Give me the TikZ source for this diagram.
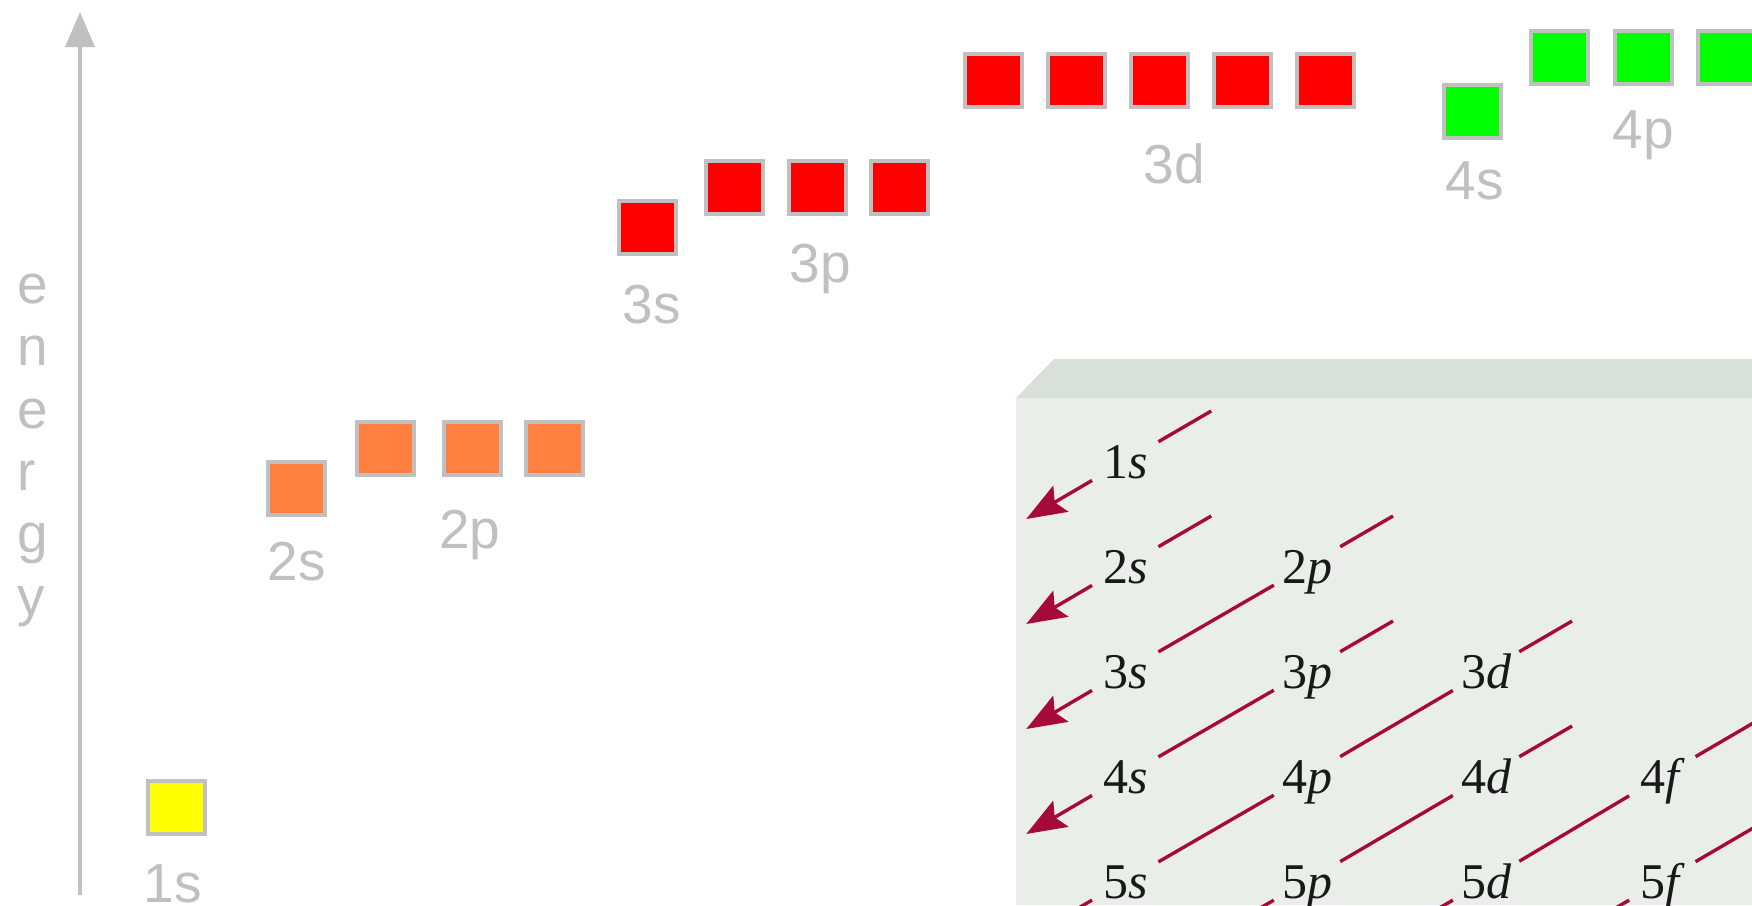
\documentclass[tikz,border=0pt]{standalone}
\usepackage{fontspec}
\setmainfont{Liberation Serif}
\newfontfamily\pixfont{Liberation Sans}
\usetikzlibrary{arrows.meta,calc}
\definecolor{lgray}{RGB}{192,192,192}
\definecolor{orbyel}{RGB}{255,255,0}
\definecolor{orborg}{RGB}{255,128,64}
\definecolor{orbred}{RGB}{255,0,0}
\definecolor{orbgrn}{RGB}{0,255,0}
\definecolor{panelbg}{RGB}{233,238,233}
\definecolor{panelband}{RGB}{216,224,217}
\definecolor{crim}{RGB}{165,10,58}
\definecolor{inkc}{RGB}{25,25,25}
\begin{document}
\begin{tikzpicture}[x=1pt,y=-1pt,
  orb/.style={draw=lgray, line width=4pt, minimum width=57pt, minimum height=53pt, inner sep=0pt, outer sep=0pt},
  glab/.style={text=lgray, font=\pixfont\fontsize{55}{60}\selectfont, anchor=base, inner sep=0pt},
  elet/.style={text=lgray, font=\pixfont\fontsize{55}{60}\selectfont, anchor=base west, inner sep=0pt},
  plab/.style={text=inkc, font=\fontsize{50}{55}\selectfont, anchor=text, text height=34pt, text depth=0pt, minimum width=66pt, minimum height=40pt, inner sep=0pt},
  diag/.style={draw=crim, line width=3.4pt},
  arr/.style={diag, -{Stealth[length=40pt,width=30pt,inset=7pt]}},
  axisline/.style={draw=lgray, line width=4pt, -{Triangle[length=35pt,width=29pt]}}
]
\useasboundingbox (0,0) rectangle (1752,905);
\clip (0,0) rectangle (1752,905);

% energy axis
\coordinate (axb) at (80,895);
\coordinate (axt) at (80,12);
\draw[axisline] (axb) -- (axt);
\node[elet] (e1) at (17,303) {e};
\node[elet] (e2) at (17,365) {n};
\node[elet] (e3) at (17,428) {e};
\node[elet] (e4) at (17,490) {r};
\node[elet] (e5) at (17,552) {g};
\node[elet] (e6) at (17,615) {y};

% orbital boxes
\node[orb, fill=orbyel] (b1s) at (176.5,807.5) {};
\node[orb, fill=orborg] (b2s) at (296.5,488) {};
\node[orb, fill=orborg] (b2pa) at (385,448) {};
\node[orb, fill=orborg] (b2pb) at (472,448) {};
\node[orb, fill=orborg] (b2pc) at (554.5,448) {};
\node[orb, fill=orbred] (b3s) at (647.5,227) {};
\node[orb, fill=orbred] (b3pa) at (734.5,187) {};
\node[orb, fill=orbred] (b3pb) at (817,187) {};
\node[orb, fill=orbred] (b3pc) at (899.5,187) {};
\node[orb, fill=orbred] (b3da) at (993,80) {};
\node[orb, fill=orbred] (b3db) at (1076,80) {};
\node[orb, fill=orbred] (b3dc) at (1159,80) {};
\node[orb, fill=orbred] (b3dd) at (1242,80) {};
\node[orb, fill=orbred] (b3de) at (1325,80) {};
\node[orb, fill=orbgrn] (b4s) at (1472,111.5) {};
\node[orb, fill=orbgrn] (b4pa) at (1559.5,57.5) {};
\node[orb, fill=orbgrn] (b4pb) at (1643,57.5) {};
\node[orb, fill=orbgrn] (b4pc) at (1726,57.5) {};

% gray labels
\node[glab] (t1s) at (173,902) {1s};
\node[glab] (t2s) at (296.5,580) {2s};
\node[glab] (t2p) at (470,548) {2p};
\node[glab] (t3s) at (652,323) {3s};
\node[glab] (t3p) at (820,282) {3p};
\node[glab] (t3d) at (1174,183) {3d};
\node[glab] (t4s) at (1475,199) {4s};
\node[glab] (t4p) at (1643,148) {4p};

% panel
\fill[panelbg] (1016,398) rectangle (1752,905);
\fill[panelband] (1016,398) -- (1054,359) -- (1752,359) -- (1752,398) -- cycle;

% panel labels
\node[plab] (p1s) at (1103,478) {1\textit{s}};
\node[plab] (p2s) at (1103,583) {2\textit{s}};
\node[plab] (p2p) at (1282,583) {2\textit{p}};
\node[plab] (p3s) at (1103,688) {3\textit{s}};
\node[plab] (p3p) at (1282,688) {3\textit{p}};
\node[plab] (p3d) at (1461,688) {3\textit{d}};
\node[plab] (p4s) at (1103,793) {4\textit{s}};
\node[plab] (p4p) at (1282,793) {4\textit{p}};
\node[plab] (p4d) at (1461,793) {4\textit{d}};
\node[plab] (p4f) at (1640,793) {4\textit{f}};
\node[plab] (p5s) at (1103,898) {5\textit{s}};
\node[plab] (p5p) at (1282,898) {5\textit{p}};
\node[plab] (p5d) at (1461,898) {5\textit{d}};
\node[plab] (p5f) at (1640,898) {5\textit{f}};

% diagonal ends
\coordinate (u1) at ($(p1s.center)+(86,-50)$);
\coordinate (u2) at ($(p2s.center)+(86,-50)$);
\coordinate (u3) at ($(p2p.center)+(86,-50)$);
\coordinate (u4) at ($(p3p.center)+(86,-50)$);
\coordinate (u5) at ($(p3d.center)+(86,-50)$);
\coordinate (u6) at ($(p4d.center)+(86,-50)$);
\coordinate (u7) at ($(p4f.center)+(120,-70)$);
\coordinate (u8) at ($(p5f.center)+(120,-70)$);
\coordinate (w1) at ($(p1s.center)+(-99,58)$);
\coordinate (w2) at ($(p2s.center)+(-99,58)$);
\coordinate (w3) at ($(p3s.center)+(-99,58)$);
\coordinate (w4) at ($(p4s.center)+(-99,58)$);
\coordinate (w5) at ($(p5s.center)+(-182,105)$);
\coordinate (w6) at ($(p5p.center)+(-182,105)$);
\coordinate (w7) at ($(p5d.center)+(-182,105)$);
\coordinate (w8) at ($(p5f.center)+(-182,105)$);

% diagonals
\draw[arr] (u1) -- (p1s) -- (w1);
\draw[arr] (u2) -- (p2s) -- (w2);
\draw[arr] (u3) -- (p2p) -- (p3s) -- (w3);
\draw[arr] (u4) -- (p3p) -- (p4s) -- (w4);
\draw[diag] (u5) -- (p3d) -- (p4p) -- (p5s) -- (w5);
\draw[diag] (u6) -- (p4d) -- (p5p) -- (w6);
\draw[diag] (u7) -- (p4f) -- (p5d) -- (w7);
\draw[diag] (u8) -- (p5f) -- (w8);
\end{tikzpicture}
\end{document}
